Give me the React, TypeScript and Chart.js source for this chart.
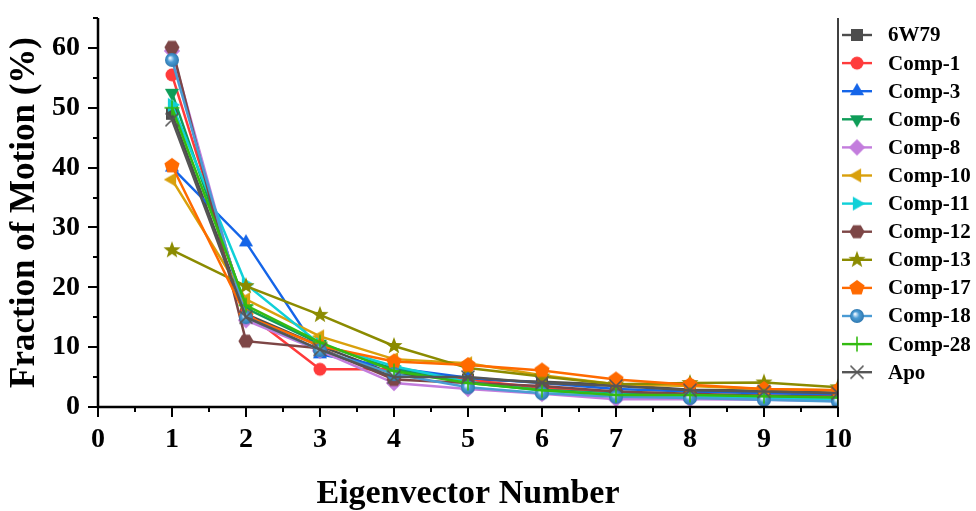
import React, { useEffect, useRef } from "react";
import { Chart, registerables } from "chart.js";

Chart.register(...registerables);

const eigenvectors = [1, 2, 3, 4, 5, 6, 7, 8, 9, 10];
const xTickValues = [0, 1, 2, 3, 4, 5, 6, 7, 8, 9, 10];
const yTickValues = [0, 10, 20, 30, 40, 50, 60];

const seriesNames = [
  "6W79", "Comp-1", "Comp-3", "Comp-6", "Comp-8", "Comp-10", "Comp-11",
  "Comp-12", "Comp-13", "Comp-17", "Comp-18", "Comp-28", "Apo",
];

const v6W79 = [49, 15.5, 10.2, 5.5, 4.6, 4.2, 3.7, 2.9, 2.7, 2.4];
const vComp1 = [55.5, 15.8, 6.3, 6.3, 4.5, 3.2, 2.4, 2.0, 1.9, 1.7];
const vComp3 = [40, 27.5, 8.8, 6.5, 4.9, 4.0, 3.0, 2.6, 2.3, 2.1];
const vComp6 = [52.5, 16.5, 10.6, 6.3, 4.0, 2.9, 2.2, 1.9, 1.8, 1.6];
const vComp8 = [59.5, 14.5, 9.4, 4.0, 3.0, 2.2, 1.3, 1.3, 1.2, 1.0];
const vComp10 = [38, 18, 11.8, 8.0, 7.3, 5.3, 3.8, 3.5, 3.0, 2.8];
const vComp11 = [50.5, 20.5, 10.5, 6.8, 4.2, 2.7, 2.1, 1.7, 1.5, 1.3];
const vComp12 = [60.1, 11, 9.8, 4.6, 4.0, 3.5, 2.6, 2.2, 1.9, 1.7];
const vComp13 = [26.2, 20.2, 15.4, 10.2, 6.5, 5.1, 3.8, 4.0, 4.1, 3.3];
const vComp17 = [40.3, 15.2, 10.2, 7.6, 7.0, 6.1, 4.6, 3.7, 3.0, 2.8];
const vComp18 = [58, 15, 9.5, 5.5, 3.3, 2.3, 1.7, 1.5, 1.2, 0.9];
const vComp28 = [50, 17, 10.8, 6.0, 4.0, 2.8, 2.0, 2.0, 1.8, 1.6];
const vApo = [48, 15, 9.6, 5.0, 5.0, 4.0, 3.5, 2.8, 2.6, 2.3];

const seriesValues = [
  v6W79, vComp1, vComp3, vComp6, vComp8, vComp10, vComp11,
  vComp12, vComp13, vComp17, vComp18, vComp28, vApo,
];

const seriesColors = [
  "#4d4d4d", "#ff3b3b", "#1565e8", "#0f9d58", "#c37ddd", "#d9a00c", "#10d0d8",
  "#7d4646", "#8b8b00", "#ff6a00", "#4a9bd4", "#33bb11", "#555555",
];

const seriesMarkers = [
  "square", "circle", "triUp", "triDown", "diamond", "triLeft", "triRight",
  "hexagon", "star", "pentagon", "sphere", "plus", "x",
];

const FONT = "'Times New Roman', 'Liberation Serif', serif";

function makeMarker(kind: string, color: string): HTMLCanvasElement {
  const S = 22;
  const c = document.createElement("canvas");
  c.width = S;
  c.height = S;
  const ctx = c.getContext("2d")!;
  const cx = S / 2;
  const cy = S / 2;
  ctx.fillStyle = color;
  ctx.strokeStyle = color;
  const poly = (r: number, angles: number[]) => {
    ctx.beginPath();
    angles.forEach((a, i) => {
      const rad = (a * Math.PI) / 180;
      const px = cx + r * Math.cos(rad);
      const py = cy + r * Math.sin(rad);
      if (i === 0) ctx.moveTo(px, py);
      else ctx.lineTo(px, py);
    });
    ctx.closePath();
    ctx.fill();
  };
  switch (kind) {
    case "square":
      ctx.fillRect(cx - 6, cy - 6, 12, 12);
      break;
    case "circle":
      ctx.beginPath();
      ctx.arc(cx, cy, 6.5, 0, Math.PI * 2);
      ctx.fill();
      break;
    case "triUp":
      poly(8.2, [-90, 30, 150]);
      break;
    case "triDown":
      poly(8.2, [90, 210, 330]);
      break;
    case "triLeft":
      poly(8.2, [180, 300, 60]);
      break;
    case "triRight":
      poly(8.2, [0, 120, 240]);
      break;
    case "diamond":
      poly(8.2, [-90, 0, 90, 180]);
      break;
    case "hexagon":
      poly(7.6, [0, 60, 120, 180, 240, 300]);
      break;
    case "pentagon":
      poly(8, [-90, -18, 54, 126, 198]);
      break;
    case "star": {
      ctx.beginPath();
      for (let i = 0; i < 10; i++) {
        const r = i % 2 === 0 ? 9 : 3.7;
        const a = ((-90 + i * 36) * Math.PI) / 180;
        const px = cx + r * Math.cos(a);
        const py = cy + r * Math.sin(a);
        if (i === 0) ctx.moveTo(px, py);
        else ctx.lineTo(px, py);
      }
      ctx.closePath();
      ctx.fill();
      break;
    }
    case "sphere": {
      const g = ctx.createRadialGradient(cx - 2, cy - 2, 0.5, cx, cy, 7);
      g.addColorStop(0, "#e8f4ff");
      g.addColorStop(0.45, color);
      g.addColorStop(1, "#2f78b0");
      ctx.fillStyle = g;
      ctx.beginPath();
      ctx.arc(cx, cy, 7, 0, Math.PI * 2);
      ctx.fill();
      break;
    }
    case "plus":
      ctx.lineWidth = 1.6;
      ctx.beginPath();
      ctx.moveTo(cx - 7.5, cy);
      ctx.lineTo(cx + 7.5, cy);
      ctx.moveTo(cx, cy - 7.5);
      ctx.lineTo(cx, cy + 7.5);
      ctx.stroke();
      break;
    case "x":
      ctx.lineWidth = 1.6;
      ctx.beginPath();
      ctx.moveTo(cx - 6.5, cy - 6.5);
      ctx.lineTo(cx + 6.5, cy + 6.5);
      ctx.moveTo(cx + 6.5, cy - 6.5);
      ctx.lineTo(cx - 6.5, cy + 6.5);
      ctx.stroke();
      break;
  }
  return c;
}

export default function App() {
  const canvasRef = useRef<HTMLCanvasElement | null>(null);

  useEffect(() => {
    const canvas = canvasRef.current;
    if (!canvas) return;
    const markers = seriesMarkers.map((m, i) => makeMarker(m, seriesColors[i]));
    const n = seriesNames.length;

    const datasets = seriesNames.map((name, i) => ({
      label: name,
      data: eigenvectors.map((x, j) => ({ x, y: seriesValues[i][j] })),
      borderColor: seriesColors[i],
      backgroundColor: seriesColors[i],
      borderWidth: 2.5,
      pointStyle: markers[i] as any,
      tension: 0,
      order: n - i,
    }));

    const framePlugin = {
      id: "frameTicksLegend",
      afterDraw(chart: any) {
        const { ctx, chartArea, scales } = chart;
        const xs = scales.x;
        const ys = scales.y;
        ctx.save();
        ctx.strokeStyle = "#000";
        ctx.lineWidth = 2.5;
        ctx.beginPath();
        ctx.moveTo(chartArea.left, chartArea.top);
        ctx.lineTo(chartArea.left, chartArea.bottom);
        ctx.lineTo(chartArea.right, chartArea.bottom);
        ctx.stroke();
        ctx.lineWidth = 1.5;
        ctx.beginPath();
        ctx.moveTo(chartArea.right, chartArea.top);
        ctx.lineTo(chartArea.right, chartArea.bottom);
        ctx.stroke();
        ctx.lineWidth = 2;
        ctx.beginPath();
        for (let v = 0; v <= 65; v += 5) {
          const py = Math.round(ys.getPixelForValue(v));
          const len = v % 10 === 0 ? 10 : 5;
          ctx.moveTo(chartArea.left - len, py);
          ctx.lineTo(chartArea.left, py);
        }
        for (let v = 0; v <= 10; v += 0.5) {
          const px = Math.round(xs.getPixelForValue(v));
          const len = Number.isInteger(v) ? 10 : 5;
          ctx.moveTo(px, chartArea.bottom);
          ctx.lineTo(px, chartArea.bottom + len);
        }
        ctx.stroke();

        // legend
        const lx0 = 842;
        const lx1 = 872;
        const mx = 857;
        const tx = 888;
        ctx.font = `bold 21px ${FONT}`;
        ctx.textBaseline = "middle";
        ctx.textAlign = "left";
        seriesNames.forEach((name, i) => {
          const ly = 35 + i * 28.1;
          ctx.strokeStyle = seriesColors[i];
          ctx.lineWidth = 2.4;
          ctx.beginPath();
          ctx.moveTo(lx0, ly);
          ctx.lineTo(lx1, ly);
          ctx.stroke();
          const m = markers[i];
          ctx.drawImage(m, mx - m.width / 2, ly - m.height / 2);
          ctx.fillStyle = "#000";
          ctx.fillText(name, tx, ly + 1);
        });
        ctx.restore();
      },
    };

    const chart = new Chart(canvas, {
      type: "line",
      data: { datasets: datasets as any },
      options: {
        animation: false,
        responsive: false,
        devicePixelRatio: 1,
        layout: { padding: { top: 18, right: 138, left: 0, bottom: 0 } },
        plugins: {
          legend: { display: false },
          tooltip: { enabled: false },
        },
        scales: {
          x: {
            type: "linear",
            min: 0,
            max: 10,
            grid: { display: false, drawTicks: false },
            border: { display: false },
            afterBuildTicks: (s: any) => {
              s.ticks = xTickValues.map((v) => ({ value: v }));
            },
            afterFit: (s: any) => {
              s.height = 104;
              s.paddingLeft = 0;
              s.paddingRight = 0;
            },
            ticks: {
              color: "#000",
              font: { family: FONT, size: 28, weight: "bold" },
              padding: 16,
              maxRotation: 0,
              autoSkip: false,
            },
            title: {
              display: true,
              text: "Eigenvector Number",
              color: "#000",
              font: { family: FONT, size: 34, weight: "bold", lineHeight: 1 },
              padding: { top: 0, bottom: 0 },
            },
          },
          y: {
            type: "linear",
            min: 0,
            max: 65,
            grid: { display: false, drawTicks: false },
            border: { display: false },
            afterBuildTicks: (s: any) => {
              s.ticks = yTickValues.map((v) => ({ value: v }));
            },
            afterFit: (s: any) => {
              s.width = 98;
              s.paddingTop = 0;
              s.paddingBottom = 0;
            },
            ticks: {
              color: "#000",
              font: { family: FONT, size: 28, weight: "bold" },
              padding: 18,
            },
            title: {
              display: true,
              text: "Fraction of Motion (%)",
              color: "#000",
              font: { family: FONT, size: 35, weight: "bold", lineHeight: 1.2 },
              padding: { top: 4, bottom: 0 },
            },
          },
        },
      },
      plugins: [framePlugin],
    });

    return () => chart.destroy();
  }, []);

  return (
    <div style={{ position: "fixed", left: 0, top: 0, width: 976, height: 511, background: "#fff" }}>
      <canvas ref={canvasRef} width={976} height={511} />
    </div>
  );
}
